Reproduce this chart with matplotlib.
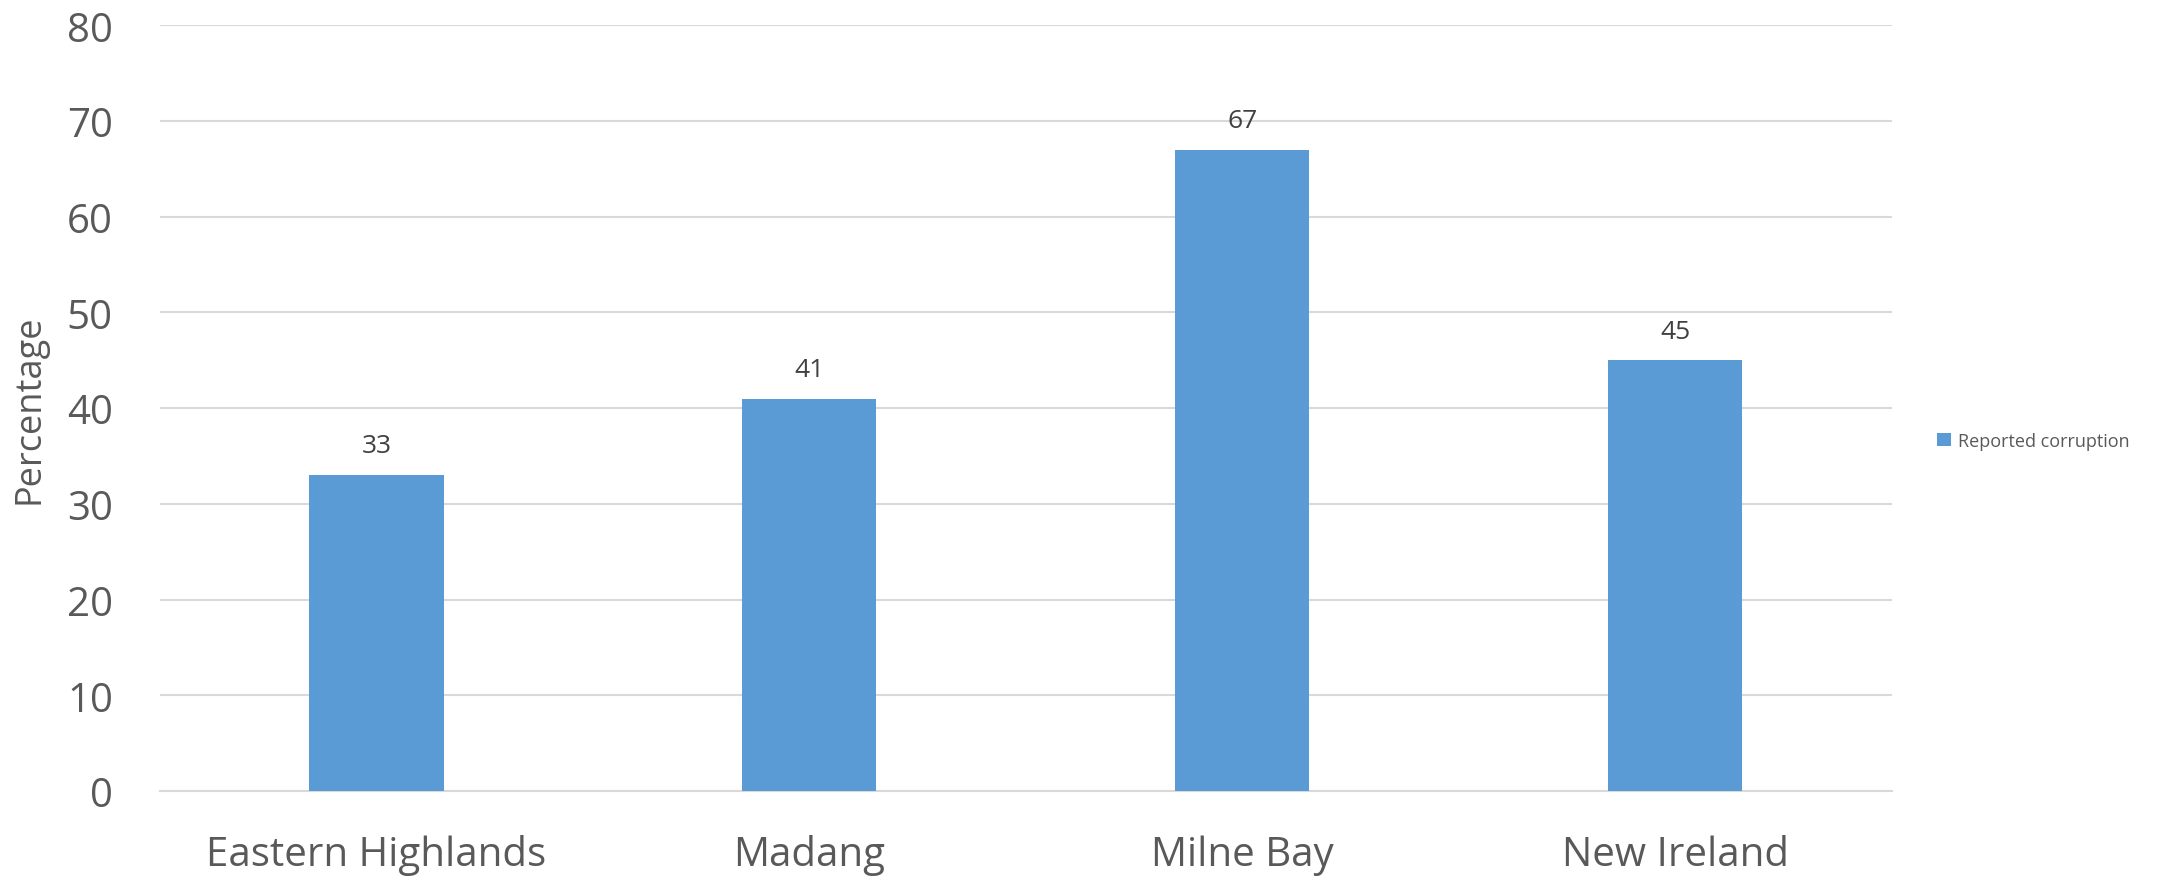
import numpy as np
import matplotlib
matplotlib.use("Agg")
import matplotlib.pyplot as plt

# Reported corruption by province
provinces = ["Eastern Highlands", "Madang", "Milne Bay", "New Ireland"]
reported = [33, 41, 67, 45]
y_ticks = [0, 10, 20, 30, 40, 50, 60, 70, 80]

BAR_COLOR = "#5b9bd5"
TEXT_COLOR = "#595959"
GRID_COLOR = "#d9d9d9"

plt.rcParams["font.family"] = ["Open Sans", "DejaVu Sans"]

fig = plt.figure(figsize=(21.78, 8.78), dpi=100)
ax = fig.add_axes([0.0735, 0.098, 0.795, 0.872])

x = np.arange(len(provinces))
bars = ax.bar(x, reported, width=0.31, color=BAR_COLOR, zorder=3,
              label="Reported corruption")

for rect, val in zip(bars, reported):
    ax.annotate(str(val), (rect.get_x() + rect.get_width() / 2, val),
                xytext=(0, 12), textcoords="offset points",
                ha="center", va="bottom", fontsize=19, color="#404040")

ax.set_xlim(-0.5, len(provinces) - 0.5)
ax.set_ylim(0, 80)
ax.set_yticks(y_ticks)
ax.set_xticks(x)
ax.set_xticklabels(provinces)
ax.tick_params(axis="y", length=0, pad=34, labelsize=29, labelcolor=TEXT_COLOR)
ax.tick_params(axis="x", length=0, pad=31, labelsize=29, labelcolor=TEXT_COLOR)
ax.grid(axis="y", color=GRID_COLOR, linewidth=1.5, zorder=0)
for side in ["top", "right", "left"]:
    ax.spines[side].set_visible(False)
ax.spines["bottom"].set_color(GRID_COLOR)
ax.spines["bottom"].set_linewidth(1.5)

ax.set_ylabel("Percentage", fontsize=26, color=TEXT_COLOR)
ax.yaxis.set_label_coords(-0.065, 0.5)

ax.legend(loc="center left", bbox_to_anchor=(1.017, 0.457), frameon=False,
          fontsize=13, labelcolor=TEXT_COLOR, handlelength=0.75,
          handleheight=0.75, handletextpad=0.4)

fig.savefig("out.png", dpi=100, facecolor="white")
